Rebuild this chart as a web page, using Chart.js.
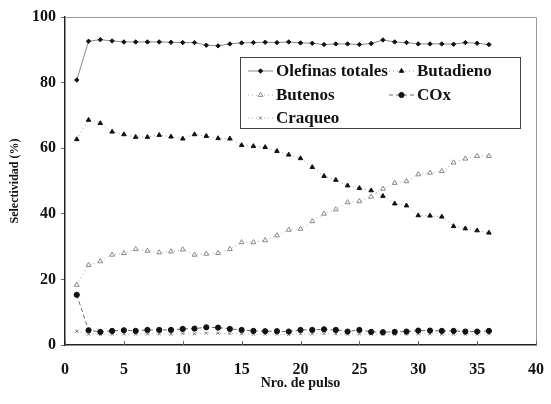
<!DOCTYPE html>
<html>
<head>
<meta charset="utf-8">
<script src="https://cdn.jsdelivr.net/npm/chart.js@4.4.1/dist/chart.umd.min.js"></script>
<style>
    body { margin: 0; background: #fff; }
    #wrap { width: 551px; height: 404px; position: relative; }
</style>
</head>
<body>
<div id="wrap"><canvas id="selectividad-chart"></canvas></div>
<script>
// Pulse number (x) and selectivity (%) per product
const pulsos = [1, 2, 3, 4, 5, 6, 7, 8, 9, 10, 11, 12, 13, 14, 15, 16, 17, 18,
                19, 20, 21, 22, 23, 24, 25, 26, 27, 28, 29, 30, 31, 32, 33, 34, 35, 36];

const olefinasTotales = [80.8, 92.6, 93.1, 92.7, 92.4, 92.4, 92.4, 92.4, 92.3, 92.2, 92.2, 91.4,
                         91.2, 91.8, 92.1, 92.2, 92.3, 92.2, 92.4, 92.1, 92.0, 91.6, 91.8, 91.8,
                         91.6, 91.9, 93.0, 92.4, 92.2, 91.8, 91.8, 91.8, 91.7, 92.2, 92.0, 91.6];

const butadieno = [62.7, 68.6, 67.6, 65.0, 64.2, 63.4, 63.4, 64.0, 63.5, 62.9, 64.2, 63.7,
                   63.0, 62.9, 60.9, 60.6, 60.3, 59.1, 58.0, 56.9, 54.2, 51.5, 50.3, 48.6,
                   47.8, 47.1, 45.4, 43.1, 42.5, 39.5, 39.4, 39.1, 36.2, 35.5, 34.9, 34.2];

const butenos = [18.3, 24.4, 25.5, 27.5, 28.0, 29.2, 28.7, 28.2, 28.5, 29.1, 27.5, 27.8,
                 28.0, 29.2, 31.3, 31.3, 31.9, 33.4, 35.1, 35.4, 37.7, 40.0, 41.3, 43.5,
                 43.8, 45.2, 47.6, 49.4, 49.9, 52.0, 52.5, 53.0, 55.6, 56.8, 57.6, 57.6];

const cox = [15.3, 4.5, 4.0, 4.3, 4.5, 4.3, 4.6, 4.6, 4.6, 4.9, 5.0, 5.4,
             5.3, 4.9, 4.6, 4.3, 4.2, 4.2, 4.1, 4.6, 4.6, 4.8, 4.6, 4.1,
             4.6, 4.0, 3.9, 4.0, 4.1, 4.4, 4.4, 4.3, 4.3, 4.1, 4.1, 4.3];

const craqueo = [4.2, 3.3, 3.2, 3.3, 3.4, 3.3, 3.4, 3.4, 3.3, 3.5, 3.4, 3.6,
                 3.6, 3.5, 3.4, 3.3, 3.3, 3.3, 3.2, 3.4, 3.4, 3.5, 3.4, 3.3,
                 3.4, 3.3, 3.2, 3.2, 3.3, 3.4, 3.4, 3.3, 3.3, 3.3, 3.3, 3.4];

const xTicks = [0, 5, 10, 15, 20, 25, 30, 35, 40];
const yTicks = [0, 20, 40, 60, 80, 100];

const SERIF = "'Liberation Serif', 'Times New Roman', 'DejaVu Serif', serif";

function toPoints(values) {
    return pulsos.map((p, i) => ({ x: p, y: values[i] }));
}

// Legend box drawn inside the plot area (two columns, three rows)
const insideLegend = {
    id: 'insideLegend',
    afterDraw(chart) {
        const ctx = chart.ctx;
        const box = { left: 240, top: 57, right: 520, bottom: 128 };
        ctx.save();
        ctx.fillStyle = '#fff';
        ctx.fillRect(box.left, box.top, box.right - box.left, box.bottom - box.top);
        ctx.strokeStyle = '#444';
        ctx.lineWidth = 1;
        ctx.strokeRect(box.left + 0.5, box.top + 0.5, box.right - box.left, box.bottom - box.top);

        const slots = [
            { x: 248, y: 71 }, { x: 389, y: 71 },
            { x: 248, y: 95 }, { x: 389, y: 95 },
            { x: 248, y: 118 }
        ];
        chart.data.datasets.forEach((ds, i) => {
            const s = slots[i];
            ctx.save();
            ctx.strokeStyle = ds.borderColor;
            ctx.lineWidth = ds.borderWidth;
            ctx.setLineDash(ds.borderDash || []);
            ctx.beginPath();
            ctx.moveTo(s.x, s.y);
            ctx.lineTo(s.x + 25, s.y);
            ctx.stroke();
            ctx.setLineDash([]);
            ctx.fillStyle = ds.pointBackgroundColor;
            ctx.strokeStyle = ds.pointBorderColor;
            ctx.lineWidth = ds.pointBorderWidth;
            Chart.helpers.drawPoint(ctx, {
                pointStyle: ds.pointStyle,
                radius: ds.pointRadius,
                rotation: 0,
                borderWidth: ds.pointBorderWidth
            }, s.x + 12.5, s.y);
            ctx.restore();

            ctx.fillStyle = '#111';
            ctx.font = 'bold 17px ' + SERIF;
            ctx.textBaseline = 'middle';
            ctx.textAlign = 'left';
            ctx.fillText(ds.label, s.x + 28, s.y + 1);
        });
        ctx.restore();
    }
};

// Light frame on top/right, inward tick marks on the x axis
const plotFrame = {
    id: 'plotFrame',
    beforeDatasetsDraw(chart) {
        const { ctx, chartArea: a, scales } = chart;
        ctx.save();
        ctx.strokeStyle = '#999';
        ctx.lineWidth = 1;
        ctx.beginPath();
        ctx.moveTo(a.left, a.top + 0.5);
        ctx.lineTo(a.right + 0.5, a.top + 0.5);
        ctx.lineTo(a.right + 0.5, a.bottom);
        ctx.stroke();

        ctx.strokeStyle = '#666';
        scales.x.ticks.forEach(t => {
            const px = Math.round(scales.x.getPixelForValue(t.value)) + 0.5;
            ctx.beginPath();
            ctx.moveTo(px, a.bottom);
            ctx.lineTo(px, a.bottom - 4);
            ctx.stroke();
        });
        ctx.restore();
    }
};

const chart = new Chart(document.getElementById('selectividad-chart'), {
    type: 'line',
    data: {
        datasets: [
            {
                label: 'Olefinas totales',
                data: toPoints(olefinasTotales),
                borderColor: '#888',
                borderWidth: 1,
                pointStyle: 'rectRot',
                pointRadius: 2.2,
                pointBackgroundColor: '#111',
                pointBorderColor: '#111',
                pointBorderWidth: 1
            },
            {
                label: 'Butadieno',
                data: toPoints(butadieno),
                borderColor: '#999',
                borderWidth: 1,
                borderDash: [1, 3],
                pointStyle: 'triangle',
                pointRadius: 2.6,
                pointBackgroundColor: '#111',
                pointBorderColor: '#111',
                pointBorderWidth: 1
            },
            {
                label: 'Butenos',
                data: toPoints(butenos),
                borderColor: '#aaa',
                borderWidth: 1,
                borderDash: [1, 3],
                pointStyle: 'triangle',
                pointRadius: 2.8,
                pointBackgroundColor: '#fff',
                pointBorderColor: '#888',
                pointBorderWidth: 1
            },
            {
                label: 'COx',
                data: toPoints(cox),
                borderColor: '#666',
                borderWidth: 1,
                borderDash: [4, 3],
                pointStyle: 'circle',
                pointRadius: 2.6,
                pointBackgroundColor: '#111',
                pointBorderColor: '#111',
                pointBorderWidth: 1
            },
            {
                label: 'Craqueo',
                data: toPoints(craqueo),
                borderColor: '#aaa',
                borderWidth: 1,
                borderDash: [1, 3],
                pointStyle: 'crossRot',
                pointRadius: 2.2,
                pointBackgroundColor: '#777',
                pointBorderColor: '#777',
                pointBorderWidth: 1
            }
        ]
    },
    options: {
        responsive: true,
        maintainAspectRatio: false,
        animation: false,
        layout: {
            padding: { top: 17, right: 10, left: 0, bottom: 0 }
        },
        plugins: {
            legend: { display: false },
            tooltip: { enabled: false }
        },
        scales: {
            x: {
                type: 'linear',
                min: 0,
                max: 40,
                afterBuildTicks(scale) {
                    scale.ticks = xTicks.map(v => ({ value: v }));
                },
                afterFit(scale) {
                    scale.height = 59;
                },
                border: { display: true, color: '#222', width: 1.5 },
                grid: { display: false },
                ticks: {
                    color: '#111',
                    padding: 7,
                    maxRotation: 0,
                    font: { family: SERIF, size: 16, weight: 'bold' }
                },
                title: {
                    display: true,
                    text: 'Nro. de pulso',
                    color: '#111',
                    padding: { top: 0, bottom: 12 },
                    font: { family: SERIF, size: 14, weight: 'bold' }
                }
            },
            y: {
                min: 0,
                max: 100,
                afterBuildTicks(scale) {
                    scale.ticks = yTicks.map(v => ({ value: v }));
                },
                afterFit(scale) {
                    scale.width = 65;
                },
                border: { display: true, color: '#222', width: 1.5 },
                grid: {
                    display: true,
                    drawOnChartArea: false,
                    drawTicks: true,
                    tickLength: 4,
                    color: '#666'
                },
                ticks: {
                    color: '#111',
                    padding: 5,
                    font: { family: SERIF, size: 16, weight: 'bold' }
                },
                title: {
                    display: true,
                    text: 'Selectividad (%)',
                    color: '#111',
                    padding: { top: 8, bottom: 0 },
                    font: { family: SERIF, size: 12, weight: 'bold' }
                }
            }
        }
    },
    plugins: [plotFrame, insideLegend]
});
</script>
</body>
</html>
